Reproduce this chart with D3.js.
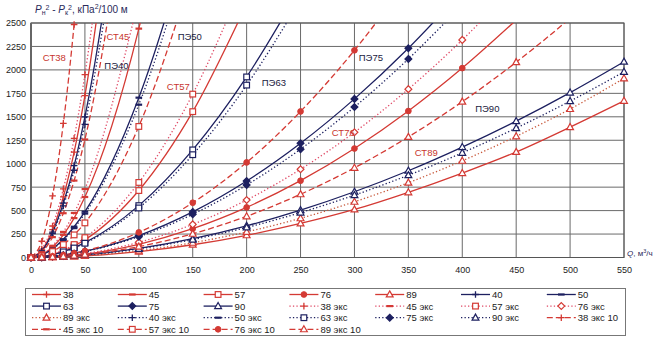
<!DOCTYPE html>
<html><head><meta charset="utf-8">
<script src="https://cdn.jsdelivr.net/npm/d3@7"></script>
<style>body{margin:0;background:#fff}svg text{font-family:Arial,"Liberation Sans",sans-serif}</style>
</head><body><svg id="c" width="654" height="350"></svg>
<script>
// ---- data ----
const qValues = [0,10,20,30,40,50,100,150,200,250,300,350,400,450,500,550];
const xTicks = [0,50,100,150,200,250,300,350,400,450,500,550];
const yTicks = [0,250,500,750,1000,1250,1500,1750,2000,2250,2500];

const st38 = [0,78,297,647,1124,1725,6527];
const st45 = [0,29,111,242,420,645,2440,5314];
const st57 = [0,8.6,32.5,70.8,123,189,714,1555,2702];
const st76 = [0,1.7,6.4,14,24,37,141,307,534,819,1162,1562,2019,2531];
const st89 = [0,0.75,2.8,6.2,10.8,16.5,62.5,136,237,363,512,695,900,1125,1390,1670];
const pe40 = [0,70,270,580,980,1500,5400];
const pe50 = [0,27,94,195,328,489,1704,3536];
const pe63 = [0,8.8,30.5,63,106,159,553,1147,1925,2878];
const pe75 = [0,3.7,12.9,26.8,45,67,234,486,815,1218,1691,2231,2838];
const pe90 = [0,1.5,5.4,11.1,18.6,27.9,97,201,338,505,701,925,1177,1454,1758,2087];
const st38e = [0,89,336,731,1270,1950,7379];
const st45e = [0,33,125,273,475,729,2757];
const st57e = [0,9.7,36.5,79.6,138,212,800,1742,3027];
const st76e = [0,1.9,7.4,16,28,43,162,353,613,941,1335,1795,2320,2908];
const st89e = [0,0.9,3.3,7.1,12.4,19,72,157,273,418,594,798,1031,1292,1583,1910];
const pe40e = [0,65,255,550,930,1420,5100];
const pe50e = [0,26,90,187,313,468,1629,3380];
const pe63e = [0,8.4,29,60,101,152,528,1096,1838,2748];
const pe75e = [0,3.5,12.3,25.4,42.7,63.8,222,461,773,1155,1604,2117,2693];
const pe90e = [0,1.5,5.1,10.5,17.7,26.4,92,191,320,479,665,877,1116,1379,1667,1979];
const st38e10 = [0,173,657,1430,2484,3813];
const st45e10 = [0,57,217,472,820,1258,4760];
const st57e10 = [0,16.8,63.5,138,241,369,1397,3043];
const st76e10 = [0,3.2,12.2,26.6,46,71,268,584,1014,1557,2209,2969];
const st89e10 = [0,1.4,5.3,11.5,20,30.7,116,253,439,674,956,1285,1661,2082,2550,3062];

const seriesNames = ["38","45","57","76","89","40","50","63","75","90",
 "38 экс","45 экс","57 экс","76 экс","89 экс","40 экс","50 экс","63 экс","75 экс","90 экс",
 "38 экс 10","45 экс 10","57 экс 10","76 экс 10","89 экс 10"];
const seriesData = [st38,st45,st57,st76,st89,pe40,pe50,pe63,pe75,pe90,
 st38e,st45e,st57e,st76e,st89e,pe40e,pe50e,pe63e,pe75e,pe90e,
 st38e10,st45e10,st57e10,st76e10,st89e10];

const curveLabels = [
 {t:"СТ38",q:11,v:2100,red:true},{t:"СТ45",q:70,v:2320,red:true},{t:"ПЭ40",q:68,v:2010,red:false},
 {t:"ПЭ50",q:136,v:2320,red:false},{t:"СТ57",q:126,v:1790,red:true},{t:"ПЭ63",q:214,v:1825,red:false},
 {t:"ПЭ75",q:304,v:2100,red:false},{t:"СТ76",q:279,v:1290,red:true},{t:"СТ89",q:356,v:1080,red:true},
 {t:"ПЭ90",q:412,v:1550,red:false}];

// ---- styles ----
const RED="#d43a34", PINK="#e04a66", BROWN="#c8583a", NAVY="#1d2060";
const styleOf = (i)=>{
  const kinds=["plus","dash","square","circle","triangle"];
  const k = kinds[i%5];
  const km=["plus","dash","square","diamond","triangle"][i%5];
  if(i<5) return {c:RED,d:null,m:k,mc:RED,fill:k==="circle"?RED:"#fff"};
  if(i<10) return {c:NAVY,d:null,m:km,mc:NAVY,fill:km==="diamond"?NAVY:"#fff"};
  if(i<15) return {c:i===14?BROWN:PINK,d:"1.3,2.2",m:km,mc:RED,fill:"#fff"};
  if(i<20) return {c:NAVY,d:"1.3,2.2",m:km,mc:NAVY,fill:km==="diamond"?NAVY:"#fff"};
  return {c:RED,d:"6,3",m:k,mc:RED,fill:k==="circle"?RED:"#fff"};
};

const svg = d3.select("#c");
const M = {l:31,r:624,t:23,b:257.5};
const x = d3.scaleLinear().domain([0,550]).range([M.l,M.r]);
const y = d3.scaleLinear().domain([0,2500]).range([M.b,M.t]);

// grid
const g = svg.append("g");
g.selectAll(".hg").data(yTicks).join("line").attr("x1",M.l).attr("x2",M.r)
 .attr("y1",d=>y(d)).attr("y2",d=>y(d)).attr("stroke","#6a6a6a").attr("stroke-width",1);
g.selectAll(".vg").data(xTicks).join("line").attr("y1",M.t).attr("y2",M.b)
 .attr("x1",d=>x(d)).attr("x2",d=>x(d)).attr("stroke","#6a6a6a").attr("stroke-width",1);
svg.append("rect").attr("x",M.l).attr("y",M.t).attr("width",M.r-M.l).attr("height",M.b-M.t)
 .attr("fill","none").attr("stroke","#555").attr("stroke-width",1);
svg.append("line").attr("x1",M.l).attr("x2",M.l).attr("y1",M.t).attr("y2",M.b).attr("stroke","#666").attr("stroke-width",2);

// axes
const xa = svg.append("g").attr("transform",`translate(0,${M.b})`)
 .call(d3.axisBottom(x).tickValues(xTicks).tickFormat(d3.format("d")).tickSize(0).tickPadding(9));
xa.select(".domain").remove();
xa.selectAll("text").attr("font-size",9).attr("fill","#222");
const ya = svg.append("g").attr("transform",`translate(${M.l},0)`)
 .call(d3.axisLeft(y).tickValues(yTicks).tickFormat(d3.format("d")).tickSize(0).tickPadding(5));
ya.select(".domain").remove();
ya.selectAll("text").attr("font-size",9).attr("fill","#222");

svg.append("clipPath").attr("id","clip").append("rect")
 .attr("x",M.l).attr("y",M.t).attr("width",M.r-M.l+1).attr("height",M.b-M.t+1);

const line = d3.line().x(d=>x(d[0])).y(d=>y(d[1])).curve(d3.curveMonotoneX);

function marker(sel, kind, cx, cy, st, s){
  s = s||1;
  if(kind==="plus"){
    sel.append("path").attr("d",`M${cx-3.5*s},${cy}H${cx+3.5*s}M${cx},${cy-3.5*s}V${cy+3.5*s}`)
      .attr("stroke",st.mc).attr("stroke-width",1.3).attr("fill","none");
  } else if(kind==="dash"){
    sel.append("path").attr("d",`M${cx-3.5*s},${cy}H${cx+3.5*s}`)
      .attr("stroke",st.mc).attr("stroke-width",2.2).attr("fill","none");
  } else if(kind==="square"){
    sel.append("rect").attr("x",cx-3*s).attr("y",cy-3*s).attr("width",6*s).attr("height",6*s)
      .attr("fill",st.fill).attr("stroke",st.mc).attr("stroke-width",1.2);
  } else if(kind==="circle"){
    sel.append("circle").attr("cx",cx).attr("cy",cy).attr("r",3*s).attr("fill",st.fill).attr("stroke",st.mc).attr("stroke-width",1);
  } else if(kind==="diamond"){
    sel.append("path").attr("d",`M${cx},${cy-3.6*s}L${cx+3.6*s},${cy}L${cx},${cy+3.6*s}L${cx-3.6*s},${cy}Z`)
      .attr("fill",st.fill).attr("stroke",st.mc).attr("stroke-width",1.2);
  } else if(kind==="triangle"){
    sel.append("path").attr("d",`M${cx},${cy-3.8*s}L${cx+3.6*s},${cy+2.6*s}L${cx-3.6*s},${cy+2.6*s}Z`)
      .attr("fill",st.fill).attr("stroke",st.mc).attr("stroke-width",1.2);
  }
}

// series lines
const lg = svg.append("g").attr("clip-path","url(#clip)");
const mg = svg.append("g");
seriesData.forEach((vals,i)=>{
  const st = styleOf(i);
  const pts = vals.map((v,j)=>[qValues[j],v]);
  lg.append("path").attr("d",line(pts)).attr("fill","none").attr("stroke",st.c)
    .attr("stroke-width",1.3).attr("stroke-dasharray",st.d);
});
seriesData.forEach((vals,i)=>{
  const st = styleOf(i);
  vals.forEach((v,j)=>{ if(v<=2500) marker(mg, st.m, x(qValues[j]), y(v), st, 0.95); });
});

// curve labels
svg.append("g").selectAll("text").data(curveLabels).join("text")
 .attr("x",d=>x(d.q)).attr("y",d=>y(d.v)).attr("font-size",9.5)
 .attr("fill",d=>d.red?"#c8362e":"#1a1a40").text(d=>d.t);

// title
const tt = svg.append("text").attr("x",35).attr("y",13).attr("font-size",10).attr("fill","#2a2a5a");
tt.append("tspan").attr("font-style","italic").text("P");
tt.append("tspan").attr("font-size",7).attr("dy",2).text("н");
tt.append("tspan").attr("font-size",7).attr("dy",-5).text("2");
tt.append("tspan").attr("dy",3).text(" - ");
tt.append("tspan").attr("font-style","italic").text("P");
tt.append("tspan").attr("font-size",7).attr("dy",2).text("к");
tt.append("tspan").attr("font-size",7).attr("dy",-5).text("2");
tt.append("tspan").attr("dy",3).text(", кПа");
tt.append("tspan").attr("font-size",7).attr("dy",-4).text("2");
tt.append("tspan").attr("dy",4).text("/100 м");

const xl = svg.append("text").attr("x",627).attr("y",256).attr("font-size",8).attr("fill","#2a2a5a");
xl.append("tspan").attr("font-style","italic").text("Q");
xl.append("tspan").text(", м");
xl.append("tspan").attr("font-size",5.5).attr("dy",-3).text("3");
xl.append("tspan").attr("dy",3).text("/ч");

// legend
svg.append("rect").attr("x",25.5).attr("y",288.5).attr("width",600).attr("height",47)
 .attr("fill","none").attr("stroke","#777").attr("stroke-width",1);
const leg = svg.append("g");
seriesNames.forEach((name,i)=>{
  const col=i%7, row=Math.floor(i/7);
  const lx = 32 + col*85.8, ly = 294.5 + row*11.6;
  const st = styleOf(i);
  leg.append("line").attr("x1",lx).attr("x2",lx+29).attr("y1",ly).attr("y2",ly)
    .attr("stroke",st.c).attr("stroke-width",1.3).attr("stroke-dasharray",st.d);
  marker(leg, st.m, lx+14.5, ly, st, 0.95);
  leg.append("text").attr("x",lx+31).attr("y",ly+3.5).attr("font-size",9.5).attr("fill","#222").text(name);
});
</script></body></html>
